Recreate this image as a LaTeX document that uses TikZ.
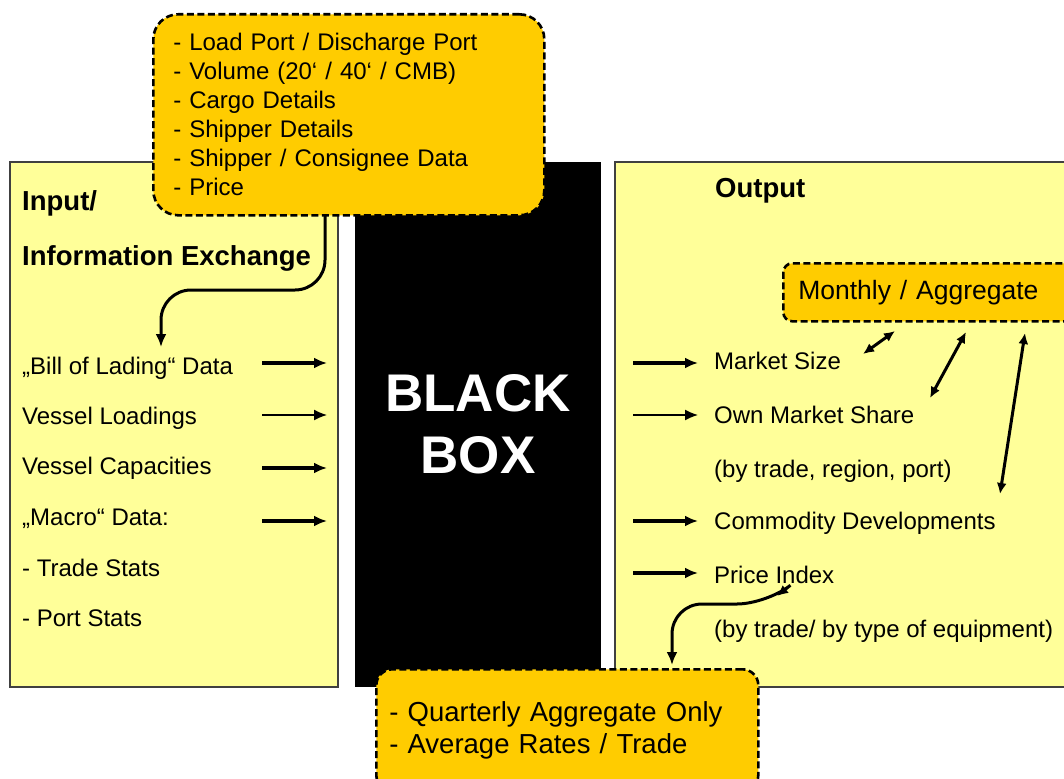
\documentclass[tikz,border=0pt]{standalone}
\usepackage{fontspec}
\setmainfont{Liberation Sans}
\usetikzlibrary{arrows.meta}
\definecolor{boxorange}{HTML}{FFCC00}
\definecolor{paleyellow}{HTML}{FFFF99}

\begin{document}
\begin{tikzpicture}[x=1pt,y=-1pt,
		panel/.style={draw=black!75, line width=1.2pt},
		infobox/.style={draw=black, fill=boxorange, line width=2.6pt, dash pattern=on 7pt off 3.5pt, rounded corners=#1, align=left},
		infobox/.default=10pt,
		item/.style={anchor=base west, inner sep=0pt, font=\fontsize{24}{29}\selectfont},
		heading/.style={anchor=base west, inner sep=0pt, font=\bfseries\fontsize{27.5}{32}\selectfont},
		flow/.style={line width=3.2pt, -{Latex[length=13pt,width=11pt]}},
		thinflow/.style={line width=1.4pt, -{Latex[length=13pt,width=11pt]}},
		link/.style={line width=3pt, {Latex[length=11pt,width=10pt]}-{Latex[length=11pt,width=10pt]}},
		curvy/.style={line width=3pt, rounded corners=30pt}]

		\useasboundingbox (0,0) rectangle (1064,778);

		% the three panels
		\fill [paleyellow] (10,162) rectangle (338,687);
		\draw [panel] (10,162) rectangle (338,687);
		\fill [black] (355,162) rectangle (601,687);
		\fill [paleyellow] (615,162) rectangle (1080,687);
		\draw [panel] (1080,162) -- (615,162) -- (615,687) -- (1080,687);

		\node [text=white, font=\bfseries\fontsize{53}{62}\selectfont, align=center] (bb) at (478,424) {BLACK\\BOX};

		% input side
		\node [heading] (inp) at (22,210) {Input/};
		\node [heading] (ie) at (22,265) {Information Exchange};

		\node [item] (bol) at (22,374) {„Bill of Lading“ Data};
		\node [item] (vl) at (22,424) {Vessel Loadings};
		\node [item] (vc) at (22,474) {Vessel Capacities};
		\node [item] (mac) at (22,525) {„Macro“ Data:};
		\node [item] (ts) at (22,576) {- Trade Stats};
		\node [item] (ps) at (22,626) {- Port Stats};

		\coordinate (l1a) at (262,363); \coordinate (l1b) at (327,363);
		\coordinate (l2a) at (262,415); \coordinate (l2b) at (327,415);
		\coordinate (l3a) at (262,468); \coordinate (l3b) at (327,468);
		\coordinate (l4a) at (262,521); \coordinate (l4b) at (327,521);
		\draw [flow] (l1a) -- (l1b);
		\draw [thinflow] (l2a) -- (l2b);
		\draw [flow] (l3a) -- (l3b);
		\draw [flow] (l4a) -- (l4b);

		% output side
		\node [heading] (out) at (715,197) {Output};

		\node [item] (ms) at (714,369) {Market Size};
		\node [item] (oms) at (714,423) {Own Market Share};
		\node [item] (trp) at (714,477) {(by trade, region, port)};
		\node [item] (cd) at (714,529) {Commodity Developments};
		\node [item] (pi) at (714,583) {Price Index};
		\node [item] (tte) at (714,637) {(by trade/ by type of equipment)};

		\coordinate (r1a) at (633,363); \coordinate (r1b) at (698,363);
		\coordinate (r2a) at (633,415); \coordinate (r2b) at (698,415);
		\coordinate (r3a) at (633,521); \coordinate (r3b) at (698,521);
		\coordinate (r4a) at (633,573); \coordinate (r4b) at (698,573);
		\draw [flow] (r1a) -- (r1b);
		\draw [thinflow] (r2a) -- (r2b);
		\draw [flow] (r3a) -- (r3b);
		\draw [flow] (r4a) -- (r4b);

		% call-out boxes
		\node [infobox=25pt, anchor=north west, minimum width=391pt, minimum height=201pt, text width=351pt, inner xsep=20pt,
			font=\fontsize{24}{29}\selectfont] (bl) at (152,13)
			{- Load Port / Discharge Port\\- Volume (20‘ / 40‘ / CMB)\\- Cargo Details\\- Shipper Details\\- Shipper / Consignee Data\\- Price};

		\node [infobox=9pt, anchor=north west, minimum width=330pt, minimum height=58pt, text width=300pt, inner xsep=15pt,
			font=\fontsize{26.5}{30}\selectfont] (mon) at (782,262) {Monthly / Aggregate};

		\node [infobox=16pt, anchor=north west, minimum width=382pt, text width=356pt, inner xsep=13pt, inner ysep=32pt,
			font=\fontsize{27.5}{32}\selectfont] (qa) at (375,668) {- Quarterly Aggregate Only\\- Average Rates / Trade};

		% links
		\coordinate (m1a) at (895,331); \coordinate (m1b) at (863,354);
		\coordinate (m2a) at (966,332); \coordinate (m2b) at (930,398);
		\coordinate (m3a) at (1025,333); \coordinate (m3b) at (1000,494);
		\draw [link] (m1a) -- (m1b);
		\draw [link] (m2a) -- (m2b);
		\draw [link] (m3a) -- (m3b);

		\coordinate (ba) at (325,216);
		\coordinate (bb2) at (161,347);
		\draw [curvy, -{Latex[length=13pt,width=11pt]}] (ba) -- (325,290) -| (bb2);

		\coordinate (pa) at (777,596);
		\coordinate (pb) at (672,665);
		\draw [curvy, {Latex[length=11pt,width=10pt]}-{Latex[length=13pt,width=11pt]}] (pa) -- (767,604) -| (pb);

\end{tikzpicture}
\end{document}
